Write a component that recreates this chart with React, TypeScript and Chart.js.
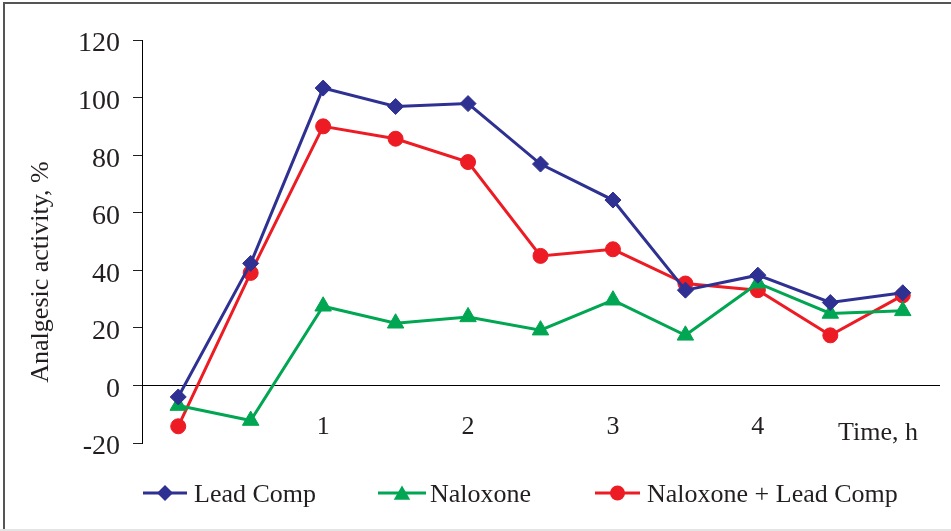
import React, { useEffect, useRef } from "react";
import { Chart, registerables } from "chart.js";

Chart.register(...registerables);

// ---- data ----
const timePoints = ["0", "0.5", "1", "1.5", "2", "2.5", "3", "3.5", "4", "4.5", "5"];
const shownTicks = ["1", "2", "3", "4"];
const leadComp = [-4, 42.4, 103.3, 96.9, 97.9, 76.9, 64.4, 33.1, 38.3, 28.8, 32.2];
const naloxone = [-7, -12.2, 27.5, 21.6, 23.8, 19.2, 29.6, 17.4, 35.5, 25, 25.9];
const naloxoneLead = [-14.2, 39.1, 90, 85.7, 77.6, 45, 47.3, 35.4, 33.1, 17.4, 31.3];
const seriesNames = ["Lead Comp", "Naloxone", "Naloxone + Lead Comp"];
const yTitle = "Analgesic activity, %";
const xTitle = "Time, h";

const BLUE = "#2E3192";
const GREEN = "#00A651";
const RED = "#ED1C24";
const TEXT = "#231F20";
const FONT = "Liberation Serif";

const framePlugin = {
  id: "frame",
  beforeDraw(chart: any) {
    const ctx = chart.ctx;
    ctx.save();
    ctx.fillStyle = "#ffffff";
    ctx.fillRect(0, 0, chart.width, chart.height);
    ctx.fillStyle = "#555555";
    ctx.fillRect(3, 2, 2, chart.height - 3);
    ctx.fillRect(3, 2, chart.width - 3, 2);
    ctx.fillStyle = "#e4e4e4";
    ctx.fillRect(0, chart.height - 2, chart.width, 2);
    ctx.restore();
  },
};

function drawMarker(ctx: CanvasRenderingContext2D, style: string, x: number, y: number, r: number, color: string) {
  ctx.save();
  ctx.fillStyle = color;
  ctx.beginPath();
  if (style === "rectRot") {
    ctx.moveTo(x - r, y);
    ctx.lineTo(x, y - r);
    ctx.lineTo(x + r, y);
    ctx.lineTo(x, y + r);
  } else if (style === "triangle") {
    const h = 1.5 * r;
    const w = Math.sqrt(3) * r;
    ctx.moveTo(x, y - r);
    ctx.lineTo(x + w / 2, y - r + h);
    ctx.lineTo(x - w / 2, y - r + h);
  } else {
    ctx.arc(x, y, r, 0, Math.PI * 2);
  }
  ctx.closePath();
  ctx.fill();
  ctx.restore();
}

const textPlugin = {
  id: "texts",
  afterDraw(chart: any) {
    const ctx = chart.ctx;
    ctx.save();
    ctx.fillStyle = TEXT;
    ctx.font = `26px "${FONT}"`;
    // y axis title
    ctx.save();
    ctx.translate(48, 272);
    ctx.rotate(-Math.PI / 2);
    ctx.textAlign = "center";
    ctx.textBaseline = "alphabetic";
    ctx.fillText(yTitle, 0, 0);
    ctx.restore();
    // x axis title
    ctx.textAlign = "left";
    ctx.textBaseline = "alphabetic";
    ctx.fillText(xTitle, 838, 440);
    // legend
    const items = [
      { x0: 143, x1: 187, text: 194 },
      { x0: 378, x1: 426, text: 430 },
      { x0: 595, x1: 640, text: 647 },
    ];
    const ly = 493;
    chart.data.datasets.forEach((ds: any, i: number) => {
      const it = items[i];
      ctx.save();
      ctx.strokeStyle = ds.borderColor;
      ctx.lineWidth = 3;
      ctx.beginPath();
      ctx.moveTo(it.x0, ly);
      ctx.lineTo(it.x1, ly);
      ctx.stroke();
      ctx.restore();
      drawMarker(ctx, ds.pointStyle, (it.x0 + it.x1) / 2, ly + (ds.pointStyle === "triangle" ? 2 : 0), ds.pointRadius, ds.borderColor);
      ctx.fillStyle = TEXT;
      ctx.fillText(ds.label, it.text, 502);
    });
    ctx.restore();
  },
};

export default function App() {
  const ref = useRef<HTMLCanvasElement | null>(null);
  useEffect(() => {
    if (!ref.current) return;
    const chart = new Chart(ref.current, {
      type: "line",
      data: {
        labels: timePoints,
        datasets: [
          {
            label: seriesNames[0],
            data: leadComp,
            borderColor: BLUE,
            backgroundColor: BLUE,
            borderWidth: 3,
            pointStyle: "rectRot",
            pointRadius: 8,
            pointBorderWidth: 1,
            pointBackgroundColor: BLUE,
            pointBorderColor: BLUE,
          },
          {
            label: seriesNames[1],
            data: naloxone,
            borderColor: GREEN,
            backgroundColor: GREEN,
            borderWidth: 3,
            pointStyle: "triangle",
            pointRadius: 9.5,
            pointBorderWidth: 1,
            pointBackgroundColor: GREEN,
            pointBorderColor: GREEN,
          },
          {
            label: seriesNames[2],
            data: naloxoneLead,
            borderColor: RED,
            backgroundColor: RED,
            borderWidth: 3,
            pointStyle: "circle",
            pointRadius: 7.5,
            pointBorderWidth: 1,
            pointBackgroundColor: RED,
            pointBorderColor: RED,
          },
        ],
      },
      options: {
        animation: false,
        responsive: false,
        maintainAspectRatio: false,
        layout: { padding: { left: 0, top: 40, right: 12, bottom: 88 } },
        plugins: {
          legend: { display: false },
          tooltip: { enabled: false },
        },
        scales: {
          x: {
            type: "category",
            offset: true,
            position: { y: 0 } as any,
            grid: { display: false, drawTicks: false },
            border: { display: true, color: "#000000", width: 1 },
            ticks: {
              autoSkip: false,
              maxRotation: 0,
              padding: 26,
              color: TEXT,
              font: { family: FONT, size: 26 },
              callback: (_v: any, i: number) => (shownTicks.includes(timePoints[i]) ? timePoints[i] : ""),
            },
          },
          y: {
            min: -20,
            max: 120,
            afterFit: (s: any) => {
              s.width = 142;
            },
            ticks: {
              stepSize: 20,
              padding: 13,
              labelOffset: 4,
              color: TEXT,
              font: { family: FONT, size: 28 },
            },
            grid: { display: true, drawOnChartArea: false, drawTicks: true, tickLength: 9, color: "#231F20" },
            border: { display: true, color: "#000000", width: 1 },
          },
        },
      },
      plugins: [framePlugin, textPlugin],
    });
    return () => chart.destroy();
  }, []);
  return (
    <div style={{ position: "fixed", left: 0, top: 0, width: 951, height: 531, background: "#fff" }}>
      <canvas ref={ref} width={951} height={531} style={{ display: "block", width: 951, height: 531 }} />
    </div>
  );
}
